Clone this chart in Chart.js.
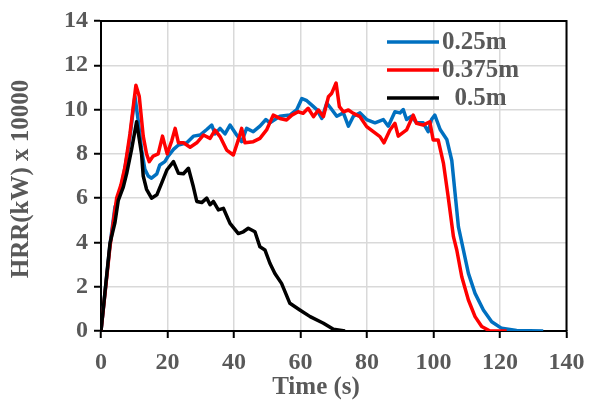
<!DOCTYPE html>
<html>
<head>
<meta charset="utf-8">
<script src="https://cdn.jsdelivr.net/npm/chart.js@4.4.1/dist/chart.umd.min.js"></script>
<style>
  html, body { margin: 0; padding: 0; background: #fff; }
  #wrap { width: 589px; height: 404px; }
</style>
</head>
<body>
<div id="wrap"><canvas id="myChart" width="589" height="404"></canvas></div>
<script>
// values
const seriesLabels = ["0.25m", "0.375m", "  0.5m"];
const seriesColors = ["#0070C0", "#FF0000", "#000000"];

const xTicks = [0, 20, 40, 60, 80, 100, 120, 140];
const yTicks = [0, 2, 4, 6, 8, 10, 12, 14];
const xTitle = "Time (s)";
const yTitle = "HRR(kW) x 10000";

const timeA = [0, 2.7, 4.2, 5.5, 7, 8.5, 10.2, 11.2, 12.2, 13.2, 14.2, 15.2, 16.8, 17.7, 19.2, 20.2, 21.8, 23.3, 25.8, 27.8,
  29.8, 31.8, 33.3, 34.3, 35.8, 37.3, 38.8, 40.8, 42.3, 43.8, 45.8, 47.8, 49.6, 50.8, 53.8, 56.8, 58.9, 60.4, 61.9, 63.4,
  64.9, 66.4, 67.9, 69.4, 70.9, 72.9, 74.4, 75.9, 77.9, 79.9, 82.4, 84.9, 86.4, 88.4, 89.9, 90.9, 91.9, 93.4, 94.9, 96.9,
  98.4, 99.4, 100.4, 102, 104, 105.5, 106.5, 107.5, 109, 110.5, 112.5, 115, 117.5, 120.5, 125, 133];
const hrrA = [0, 3.9, 5.6, 6.1, 7.2, 8.5, 10.6, 9.5, 8.2, 7.3, 7.0, 6.9, 7.1, 7.5, 7.65, 7.9, 8.2, 8.4, 8.5, 8.8,
  8.85, 9.1, 9.3, 8.9, 9.15, 8.9, 9.3, 8.85, 8.55, 9.15, 9.0, 9.25, 9.55, 9.4, 9.7, 9.75, 10.0, 10.5, 10.4, 10.2,
  10.0, 9.6, 10.3, 10.0, 9.7, 9.85, 9.25, 9.7, 9.85, 9.55, 9.4, 9.55, 9.25, 9.9, 9.85, 10.0, 9.55, 9.7, 9.4, 9.4,
  9.0, 9.55, 9.75, 9.1, 8.65, 7.7, 6.2, 4.7, 3.65, 2.6, 1.7, 0.95, 0.42, 0.12, 0.02, 0];

const timeB = [0, 2.7, 4.7, 6, 7.2, 8.7, 10.5, 11.5, 12.7, 13.7, 14.5, 15.7, 17.2, 18.5, 19.9, 21.3, 22.3, 23.3, 24.8, 26.8,
  28.8, 30.8, 32.8, 34.3, 35.8, 37.8, 39.8, 41.3, 42.3, 43.3, 45.8, 47.8, 49.8, 51.8, 53.8, 55.8, 57.4, 59.3, 60.8, 62.3,
  63.9, 65.4, 66.9, 68.4, 69.4, 70.7, 71.7, 72.9, 74.4, 75.9, 77.9, 79.9, 81.9, 83.9, 85.1, 86.9, 88.4, 89.4, 91.9, 93.9,
  94.9, 96.9, 98.9, 99.9, 101.4, 103, 104.4, 106, 107, 108.5, 110.5, 112.5, 114.5, 117, 122];
const hrrB = [0, 3.8, 6.0, 6.6, 7.4, 8.9, 11.1, 10.6, 8.8, 8.0, 7.65, 7.9, 8.0, 8.8, 8.0, 8.6, 9.15, 8.5, 8.5, 8.3,
  8.5, 8.85, 8.7, 9.07, 8.78, 8.17, 7.95, 8.63, 9.15, 8.5, 8.55, 8.7, 9.08, 9.75, 9.6, 9.53, 9.75, 9.9, 9.83, 10.06,
  9.68, 9.98, 9.68, 10.58, 10.74, 11.2, 10.13, 9.9, 9.98, 9.83, 9.68, 9.23, 9.0, 8.78, 8.5, 9.08, 9.38, 8.8, 9.08, 9.75,
  9.38, 9.3, 9.45, 8.63, 8.63, 7.57, 6.07, 4.26, 3.66, 2.45, 1.4, 0.65, 0.2, 0, 0];

const timeC = [0, 2.7, 4.2, 5.2, 6.7, 7.7, 9.2, 10.7, 12.2, 12.7, 13.7, 15.2, 16.8, 18.3, 19.8, 21.8, 23.3, 24.8, 26.3, 27.8,
  28.8, 30.3, 31.8, 32.8, 33.8, 35.3, 36.8, 38.8, 41.3, 42.8, 44.3, 46.3, 47.8, 49.3, 50.8, 52.3, 54.3, 56.8, 59.8, 62.9,
  66.9, 69.9, 73.4];
const hrrC = [0, 3.96, 4.9, 5.9, 6.5, 7.1, 8.2, 9.45, 8.0, 7.0, 6.4, 6.0, 6.15, 6.7, 7.27, 7.65, 7.12, 7.1, 7.35, 6.5,
  5.85, 5.8, 6.0, 5.7, 5.85, 5.47, 5.54, 4.86, 4.4, 4.48, 4.64, 4.48, 3.8, 3.66, 3.06, 2.6, 2.15, 1.25, 0.95, 0.65,
  0.35, 0.08, 0];

const textGray = "#595959";
const serif = "'Liberation Serif', 'Times New Roman', serif";

function pairUp(xs, ys) {
  return xs.map((x, i) => ({ x, y: ys[i] }));
}

// legend drawn inside the plot, top right
const insideLegend = {
  id: "insideLegend",
  afterDraw(chart) {
    const ctx = chart.ctx;
    const rows = [42, 70, 98];
    ctx.save();
    ctx.font = "bold 25px " + serif;
    ctx.textBaseline = "middle";
    chart.data.datasets.forEach((ds, i) => {
      const y = rows[i];
      ctx.strokeStyle = ds.borderColor;
      ctx.lineWidth = 3.5;
      ctx.beginPath();
      ctx.moveTo(387, y);
      ctx.lineTo(439, y);
      ctx.stroke();
      ctx.fillStyle = textGray;
      ctx.fillText(ds.label, 442, y + 1);
    });
    ctx.restore();
  }
};

// axis titles (x title sits left of the plot centre, as in the source)
const axisTitles = {
  id: "axisTitles",
  afterDraw(chart) {
    const ctx = chart.ctx;
    const a = chart.chartArea;
    ctx.save();
    ctx.fillStyle = textGray;
    ctx.font = "bold 25px " + serif;
    ctx.textAlign = "center";
    ctx.textBaseline = "middle";
    ctx.fillText(xTitle, 316, 388);
    ctx.translate(22, (a.top + a.bottom) / 2 + 3);
    ctx.rotate(-Math.PI / 2);
    ctx.fillText(yTitle, 0, 0);
    ctx.restore();
  }
};

// black frame on top and right of plot area
const frame = {
  id: "frame",
  beforeDatasetsDraw(chart) {
    const a = chart.chartArea;
    const ctx = chart.ctx;
    ctx.save();
    ctx.strokeStyle = "#000";
    ctx.lineWidth = 2;
    ctx.beginPath();
    ctx.moveTo(a.left, a.top);
    ctx.lineTo(a.right, a.top);
    ctx.lineTo(a.right, a.bottom);
    ctx.stroke();
    ctx.restore();
  }
};

const datasets = [
  { label: seriesLabels[0], data: pairUp(timeA, hrrA), borderColor: seriesColors[0], order: 2 },
  { label: seriesLabels[1], data: pairUp(timeB, hrrB), borderColor: seriesColors[1], order: 1 },
  { label: seriesLabels[2], data: pairUp(timeC, hrrC), borderColor: seriesColors[2], order: 0 }
].map(d => Object.assign(d, {
  showLine: true,
  pointRadius: 0,
  borderWidth: 3.5,
  borderJoinStyle: "round",
  tension: 0,
  backgroundColor: d.borderColor
}));

new Chart(document.getElementById("myChart"), {
  type: "scatter",
  data: { datasets },
  options: {
    responsive: false,
    animation: false,
    layout: { padding: { top: 21, right: 22.5, left: 0, bottom: 0 } },
    plugins: { legend: { display: false }, tooltip: { enabled: false } },
    scales: {
      x: {
        type: "linear",
        min: 0,
        max: 140,
        afterBuildTicks: s => { s.ticks = xTicks.map(v => ({ value: v })); },
        afterFit: s => { s.height = 73; s.paddingLeft = 0; s.paddingRight = 0; },
        grid: { color: "#d9d9d9", lineWidth: 1.5, tickColor: "#000", tickLength: 7, tickWidth: 2 },
        border: { color: "#000", width: 2 },
        ticks: { color: textGray, font: { family: serif, size: 24, weight: "bold" }, padding: 10, maxRotation: 0 }
      },
      y: {
        min: 0,
        max: 14,
        afterBuildTicks: s => { s.ticks = yTicks.map(v => ({ value: v })); },
        afterFit: s => { s.width = 101; s.paddingTop = 0; s.paddingBottom = 0; },
        grid: { color: "#d9d9d9", lineWidth: 1.5, tickColor: "#000", tickLength: 7, tickWidth: 2 },
        border: { color: "#000", width: 2 },
        ticks: { color: textGray, font: { family: serif, size: 24, weight: "bold" }, padding: 6 }
      }
    }
  },
  plugins: [frame, axisTitles, insideLegend]
});
</script>
</body>
</html>
